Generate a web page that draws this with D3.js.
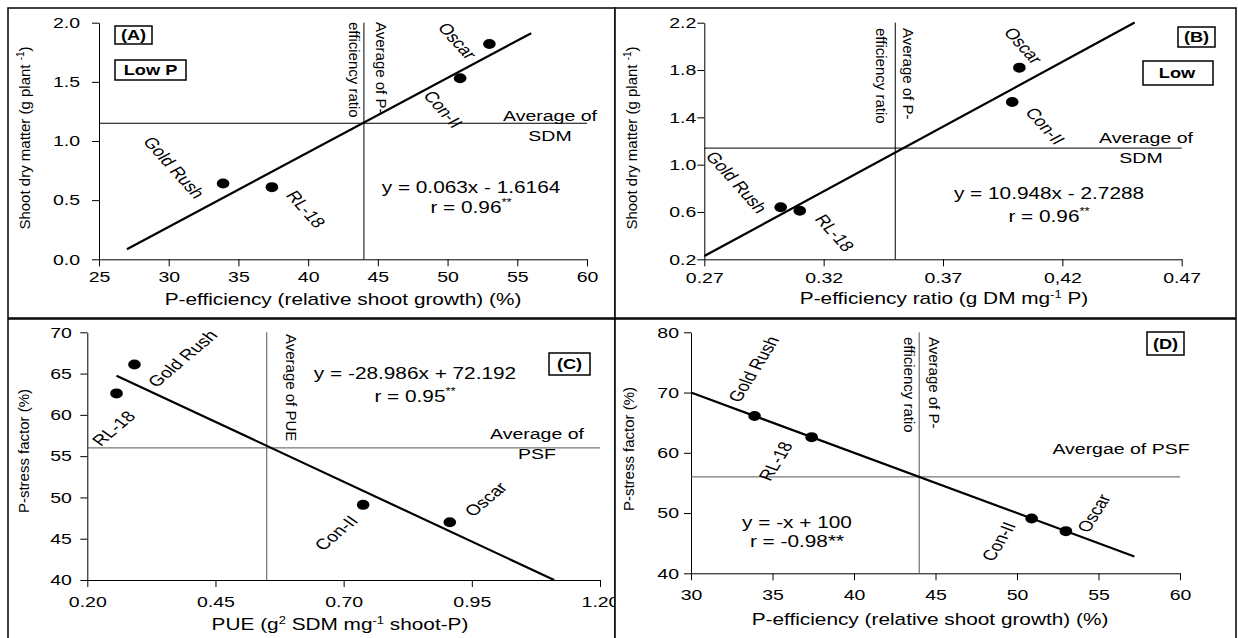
<!DOCTYPE html>
<html>
<head>
<meta charset="utf-8">
<script src="https://cdn.jsdelivr.net/npm/d3@7"></script>
<style>
  body { margin: 0; background: #fff; }
  svg text { font-family: Arial, "Liberation Sans", sans-serif; fill: #000; }
</style>
</head>
<body>
<div id="chart"></div>
<script>
// cultivars and the values
const cultivars = ['Gold Rush', 'RL-18', 'Con-II', 'Oscar']
const pEfficiency = [33.9, 37.4, 50.9, 53.0]     // relative shoot growth (%)
const shootDM = [0.64, 0.61, 1.53, 1.82]         // g plant-1
const peRatio = [0.302, 0.310, 0.399, 0.402]     // g DM mg-1 P
const pue = [0.292, 0.257, 0.738, 0.907]         // g2 SDM mg-1 shoot-P
const psf = [66.1, 62.6, 49.1, 47.0]             // P-stress factor (%)

// regression lines (A, B, C, D) and the x range each one is drawn over
const slopes = [0.063, 10.948, -28.986, -1]
const intercepts = [-1.6164, -2.7288, 72.192, 100]
const fitFrom = [27, 0.27, 0.257, 30]
const fitTo = [56, 0.4503, 1.1106, 57.2]

// averages drawn as cross lines
const avgX = [44, 0.35, 0.55, 44]
const avgY = [1.15, 1.14, 56, 56]

// ticks
const ticksAx = [25, 30, 35, 40, 45, 50, 55, 60]
const ticksAy = [0, 0.5, 1, 1.5, 2]
const labelsAy = ['0.0', '0.5', '1.0', '1.5', '2.0']
const ticksBx = [0.27, 0.32, 0.37, 0.42, 0.47]
const labelsBx = ['0.27', '0.32', '0.37', '0,42', '0.47']
const ticksBy = [0.2, 0.6, 1.0, 1.4, 1.8, 2.2]
const labelsBy = ['0.2', '0.6', '1.0', '1.4', '1.8', '2.2']
const ticksCx = [0.2, 0.45, 0.7, 0.95, 1.2]
const labelsCx = ['0.20', '0.45', '0.70', '0.95', '1.20']
const ticksCy = [40, 45, 50, 55, 60, 65, 70]
const ticksDx = [30, 35, 40, 45, 50, 55, 60]
const ticksDy = [40, 50, 60, 70, 80]

const K = 1.3   // the figure is stretched sideways

const svg = d3.select('#chart').append('svg')
    .attr('width', 1238)
    .attr('height', 638)

function panel(box, xd, xr, yd, yr, tx, lx, ty, ly, padX, padY) {
    const g = svg.append('g')
    g.append('rect')
        .attr('x', box[0]).attr('y', box[1])
        .attr('width', box[2] - box[0]).attr('height', box[3] - box[1])
        .attr('fill', '#fff').attr('stroke', '#000').attr('stroke-width', 1.5)

    const x = d3.scaleLinear().domain(xd).range(xr)
    const y = d3.scaleLinear().domain(yd).range(yr)

    const gx = g.append('g')
        .attr('transform', `translate(0,${yr[0]})`)
        .call(d3.axisBottom(x).tickValues(tx).tickFormat((d, i) => lx[i])
            .tickSize(7).tickSizeOuter(0))
    const gy = g.append('g')
        .attr('transform', `translate(${xr[0]},0)`)
        .call(d3.axisLeft(y).tickValues(ty).tickFormat((d, i) => ly[i])
            .tickSize(7).tickSizeOuter(0))

    for (const a of [gx, gy]) {
        a.attr('font-size', null).attr('font-family', null)
        a.selectAll('path,line').attr('stroke', '#000')
        a.selectAll('text').style('font-size', '15px')
    }
    // padX / padY: gap in screen pixels between axis line and label
    gx.selectAll('text')
        .attr('y', null).attr('dy', '0.71em')
        .attr('transform', `translate(0,${padX}) scale(${K},1)`)
    gy.selectAll('text')
        .attr('x', null)
        .attr('transform', `translate(${-padY},0) scale(${K},1)`)
    return { g, x, y }
}

// horizontal text, stretched like the rest of the figure
function htext(g, str, cx, by, size, bold) {
    return g.append('text')
        .attr('transform', `translate(${cx},${by}) scale(${K},1)`)
        .attr('text-anchor', 'middle')
        .style('font-size', size + 'px')
        .style('font-weight', bold ? 'bold' : null)
        .text(str)
}

function boxed(g, str, rx, ry, w, h, tx) {
    g.append('rect').attr('x', rx).attr('y', ry).attr('width', w).attr('height', h)
        .attr('fill', '#fff').attr('stroke', '#000').attr('stroke-width', 1.5)
    htext(g, str, tx == null ? rx + w / 2 : tx, ry + h / 2 + 5, 14, true)
}

function rtext(g, str, bx, ty, ang, size) {
    return g.append('text')
        .attr('transform', `translate(${bx},${ty}) rotate(${ang})`)
        .attr('text-anchor', ang < 0 ? 'middle' : 'start')
        .style('font-size', size + 'px')
        .text(str)
}

function equation(g, eq, r, cx, b1, b2, sup) {
    htext(g, eq, cx, b1, 16)
    const t = htext(g, r, cx, b2, 16)
    if (sup) {
        t.append('tspan').attr('dy', -7).style('font-size', '10px').text('**')
    }
}

function marks(p, i, xv, yv, offsets, ang) {
    const { g, x, y } = p
    const [x0, x1] = x.domain(), [y0, y1] = y.domain()
    const avgColor = i < 2 ? '#000' : '#555'

    // average lines
    g.append('line')
        .attr('x1', x(x0)).attr('x2', x(x1))
        .attr('y1', y(avgY[i])).attr('y2', y(avgY[i]))
        .attr('stroke', avgColor).attr('stroke-width', 1)
    g.append('line')
        .attr('x1', x(avgX[i])).attr('x2', x(avgX[i]))
        .attr('y1', y(y1)).attr('y2', y(y0))
        .attr('stroke', avgColor).attr('stroke-width', 1)

    // fitted line
    g.append('path')
        .datum([fitFrom[i], fitTo[i]])
        .attr('fill', 'none').attr('stroke', '#000').attr('stroke-width', 2.2)
        .attr('d', d3.line().x(v => x(v)).y(v => y(slopes[i] * v + intercepts[i])))

    // points
    g.selectAll('ellipse.pt').data(cultivars).enter()
        .append('ellipse')
        .attr('class', 'pt')
        .attr('cx', (d, j) => x(xv[j]))
        .attr('cy', (d, j) => y(yv[j]))
        .attr('rx', 6.3).attr('ry', 5)
        .attr('fill', '#000')

    // cultivar names, slanted
    const t = Math.atan(K * Math.tan(ang * Math.PI / 180)) * 180 / Math.PI
    g.selectAll('text.cv').data(cultivars).enter()
        .append('text')
        .attr('class', 'cv')
        .attr('transform', (d, j) =>
            `translate(${x(xv[j]) + offsets[j][0]},${y(yv[j]) + offsets[j][1]}) scale(${K},1) rotate(${t})`)
        .attr('text-anchor', 'middle')
        .attr('dy', '0.35em')
        .style('font-size', '15px')
        .text(d => d)
}

// ---- (A)
const A = panel([8, 8, 615, 318], [25, 60], [99, 587], [0, 2], [259.3, 22.7],
    ticksAx, ticksAx.map(String), ticksAy, labelsAy, 12, 19)
marks(A, 0, pEfficiency, shootDM, [[-49, -16], [34, 22], [-17, 31], [-32, -3]], 48)
boxed(A.g, '(A)', 115, 26, 37, 18)
boxed(A.g, 'Low  P', 115, 60, 71, 20)
rtext(A.g, 'Average of P-', 376, 22, 90, 15)
rtext(A.g, 'efficiency ratio', 349, 22, 90, 15)
htext(A.g, 'Average of', 550, 121, 15)
htext(A.g, 'SDM', 550, 141, 15)
equation(A.g, 'y = 0.063x - 1.6164', 'r = 0.96', 471, 193, 213, true)
htext(A.g, 'P-efficiency  (relative shoot growth) (%)', 343, 305, 16)
const ytA = rtext(A.g, 'Shoot dry matter (g plant ', 30, 138, -90, 15)
ytA.append('tspan').attr('dy', -6).style('font-size', '10px').text('-1')
ytA.append('tspan').attr('dy', 6).text(')')

// ---- (B)
const B = panel([615, 8, 1236, 318], [0.27, 0.47], [704.3, 1181.7], [0.2, 2.2], [259.3, 22.7],
    ticksBx, labelsBx, ticksBy, labelsBy, 13, 8)
marks(B, 1, peRatio, shootDM, [[-44, -25], [35, 22], [33, 24], [4, -22]], 48)
boxed(B.g, '(B)', 1178, 27, 37, 20)
boxed(B.g, 'Low', 1143, 61, 70, 24, 1177)
rtext(B.g, 'Average of P-', 903, 28, 90, 15)
rtext(B.g, 'efficiency ratio', 876, 28, 90, 15)
htext(B.g, 'Average of', 1146, 143, 15)
htext(B.g, 'SDM', 1141, 163, 15)
equation(B.g, 'y = 10.948x - 2.7288', 'r = 0.96', 1049, 199, 222, true)
const xtB = htext(B.g, 'P-efficiency  ratio (g DM mg', 944, 304, 16)
xtB.append('tspan').attr('dy', -6).style('font-size', '10px').text('-1')
xtB.append('tspan').attr('dy', 6).text(' P)')
const ytB = rtext(B.g, 'Shoot dry matter (g plant ', 637, 138, -90, 15)
ytB.append('tspan').attr('dy', -6).style('font-size', '10px').text('-1')
ytB.append('tspan').attr('dy', 6).text(')')

// ---- (C)
const C = panel([8, 319, 615, 641], [0.2, 1.2], [87.3, 600], [40, 70], [580, 332.3],
    ticksCx, labelsCx, ticksCy, ticksCy.map(String), 16.5, 15.5)
marks(C, 2, pue, psf, [[48, -6], [-3, 35], [-27, 28], [36, -23]], -40)
boxed(C.g, '(C)', 549, 353, 41, 22)
rtext(C.g, 'Average of PUE', 286, 334, 90, 15)
htext(C.g, 'Average of', 537, 439, 15)
htext(C.g, 'PSF', 537, 459, 15)
equation(C.g, 'y = -28.986x + 72.192', 'r = 0.95', 415, 379, 402, true)
const xtC = htext(C.g, 'PUE  (g', 340, 630, 16)
xtC.append('tspan').attr('dy', -6).style('font-size', '10px').text('2')
xtC.append('tspan').attr('dy', 6).text(' SDM mg')
xtC.append('tspan').attr('dy', -6).style('font-size', '10px').text('-1')
xtC.append('tspan').attr('dy', 6).text(' shoot-P)')
rtext(C.g, 'P-stress factor (%)', 29, 451, -90, 15)

// ---- (D)
const D = panel([615, 319, 1236, 641], [30, 60], [691, 1180], [40, 80], [573.3, 332.3],
    ticksDx, ticksDx.map(String), ticksDy, ticksDy.map(String), 16.5, 12)
marks(D, 3, pEfficiency, psf, [[-1, -47], [-36, 24], [-33, 23], [28, -18]], -58)
boxed(D.g, '(D)', 1147, 332, 37, 23)
rtext(D.g, 'Average of P-', 929, 337, 90, 15)
rtext(D.g, 'efficiency ratio', 904, 337, 90, 15)
htext(D.g, 'Avergae of PSF', 1121, 454, 15)
equation(D.g, 'y = -x + 100', 'r = -0.98**', 797, 528, 547, false)
htext(D.g, 'P-efficiency  (relative shoot growth) (%)', 930, 625, 16)
rtext(D.g, 'P-stress factor (%)', 634, 449, -90, 15)
</script>
</body>
</html>
